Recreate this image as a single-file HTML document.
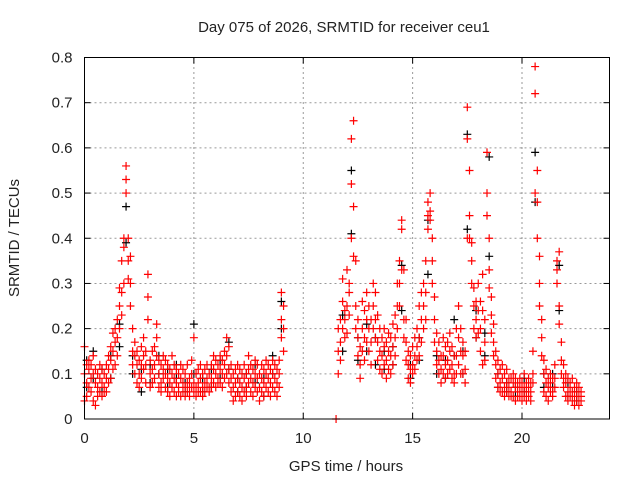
<!DOCTYPE html>
<html><head><meta charset="utf-8"><style>
html,body{margin:0;padding:0;background:#fff}
svg{display:block;font-family:"Liberation Sans",sans-serif}
</style></head><body>
<svg id="chart" width="640" height="480">
<text x="344" y="32" text-anchor="middle" font-size="15" fill="#222">Day 075 of 2026, SRMTID for receiver ceu1</text>
<text x="346" y="471" text-anchor="middle" font-size="15" fill="#222">GPS time / hours</text>
<text transform="translate(19,238) rotate(-90)" text-anchor="middle" font-size="15" fill="#222">SRMTID / TECUs</text>
<g id="grid"></g>
<g id="ticks"></g>
<g id="black"></g>
<g id="red"></g>
<rect x="84.5" y="57.5" width="525" height="361.5" fill="none" stroke="#000" stroke-width="1"/>
</svg>
<script>
const xTicks=[0,5,10,15,20];
const yTicks=[0,0.1,0.2,0.3,0.4,0.5,0.6,0.7,0.8];
const yTickLabels=["0","0.1","0.2","0.3","0.4","0.5","0.6","0.7","0.8"];
const redTimes=[0.0,0.1,0.2,0.3,0.4,0.5,0.6,0.7,0.8,0.9,1.0,1.1,1.2,1.3,1.4,1.5,1.6,1.7,1.8,1.9,2.0,2.1,2.2,2.3,2.4,2.5,2.6,2.7,2.8,2.9,3.0,3.1,3.2,3.3,3.4,3.5,3.6,3.7,3.8,3.9,4.0,4.1,4.2,4.3,4.4,4.5,4.6,4.7,4.8,4.9,5.0,5.1,5.2,5.3,5.4,5.5,5.6,5.7,5.8,5.9,6.0,6.1,6.2,6.3,6.4,6.5,6.6,6.7,6.8,6.9,7.0,7.1,7.2,7.3,7.4,7.5,7.6,7.7,7.8,7.9,8.0,8.1,8.2,8.3,8.4,8.5,8.6,8.7,8.8,8.9,9.0,9.1,
11.5,11.6,11.7,11.8,11.9,12.0,12.1,12.2,12.3,12.4,12.5,12.6,12.7,12.8,12.9,13.0,13.1,13.2,13.3,13.4,13.5,13.6,13.7,13.8,13.9,14.0,14.1,14.2,14.3,14.4,14.5,14.6,14.7,14.8,14.9,15.0,15.1,15.2,15.3,15.4,15.5,15.6,15.7,15.8,15.9,16.0,16.1,16.2,16.3,16.4,16.5,16.6,16.7,16.8,16.9,17.0,17.1,17.2,17.3,17.4,17.5,17.6,17.7,17.8,17.9,18.0,18.1,18.2,18.3,18.4,18.5,18.6,18.7,18.8,18.9,19.0,19.1,19.2,19.3,19.4,19.5,19.6,19.7,19.8,19.9,20.0,20.1,20.2,20.3,20.4,20.5,20.6,20.7,20.8,20.9,21.0,21.1,21.2,21.3,21.4,21.5,21.6,21.7,21.8,21.9,22.0,22.1,22.2,22.3,22.4,22.5,22.6,22.7];
const redValues=[[.04,.10,.16],[.12,.08,.05],[.11,.07,.13],[.09,.06,.12],[.10,.04,.14],[.08,.03,.11],[.07,.10,.05],[.09,.06,.12],[.08,.05,.11],[.10,.07,.06],[.09,.12,.06],[.11,.08,.14],[.13,.09,.16],[.15,.11,.19],[.12,.17,.20],[.18,.22,.14],[.25,.20,.29],[.23,.28,.35],[.40,.30,.38],[.56,.50,.53],[.40,.35,.31],[.30,.25,.36],[.20,.15,.12],[.14,.10,.17],[.12,.08,.15],[.10,.13,.07],[.12,.09,.16],[.14,.11,.18],[.12,.08,.15],[.32,.27,.22],[.10,.13,.07],[.11,.15,.08],[.12,.16,.09],[.21,.18,.14],[.10,.13,.07],[.08,.12,.06],[.09,.14,.11],[.07,.10,.13],[.06,.09,.12],[.08,.11,.05],[.07,.10,.14],[.09,.06,.12],[.05,.08,.11],[.07,.10,.06],[.09,.12,.05],[.06,.08,.11],[.07,.10,.05],[.08,.06,.12],[.09,.05,.07],[.10,.07,.13],[.08,.18,.06],[.07,.10,.05],[.08,.06,.11],[.06,.09,.12],[.07,.05,.10],[.08,.06,.11],[.09,.07,.12],[.07,.10,.06],[.09,.12,.07],[.08,.11,.14],[.10,.07,.13],[.09,.12,.08],[.11,.08,.14],[.10,.13,.07],[.12,.09,.15],[.14,.10,.18],[.11,.16,.08],[.09,.06,.12],[.07,.10,.04],[.08,.05,.11],[.06,.09,.12],[.05,.08,.11],[.07,.04,.10],[.09,.06,.12],[.07,.10,.05],[.11,.08,.14],[.09,.12,.06],[.08,.11,.05],[.10,.07,.13],[.09,.06,.12],[.07,.10,.04],[.06,.09,.12],[.08,.05,.11],[.07,.10,.13],[.09,.06,.12],[.08,.11,.05],[.07,.10,.13],[.09,.06,.12],[.08,.11,.05],[.10,.13,.07],[.18,.28,.22],[.15,.25,.20],
[0,0,0],[.10,.15,.20],[.17,.22,.13],[.20,.26,.31],[.18,.24,.22],[.19,.33,.25],[.23,.28,.30],[.40,.52,.62],[.47,.66,.36],[.25,.35,.20],[.18,.14,.22],[.12,.09,.16],[.15,.20,.26],[.18,.24,.13],[.22,.17,.28],[.20,.15,.25],[.17,.22,.12],[.25,.30,.20],[.22,.18,.28],[.17,.13,.23],[.15,.20,.11],[.14,.18,.10],[.16,.12,.20],[.13,.09,.17],[.15,.19,.11],[.14,.18,.10],[.16,.21,.12],[.18,.14,.23],[.30,.25,.20],[.35,.30,.25],[.44,.42,.33],[.22,.18,.33],[.17,.13,.22],[.12,.09,.15],[.11,.08,.14],[.12,.16,.10],[.14,.18,.11],[.20,.16,.13],[.25,.18,.14],[.28,.22,.17],[.30,.25,.20],[.35,.28,.22],[.45,.48,.42],[.50,.44,.46],[.40,.35,.30],[.22,.17,.27],[.15,.12,.19],[.13,.10,.17],[.11,.08,.14],[.14,.18,.10],[.12,.16,.09],[.13,.10,.17],[.15,.11,.19],[.12,.09,.16],[.10,.14,.08],[.14,.20,.10],[.18,.25,.12],[.20,.15,.10],[.14,.10,.17],[.11,.08,.15],[.40,.62,.69],[.55,.45,.40],[.39,.35,.30],[.25,.20,.29],[.22,.26,.18],[.24,.19,.30],[.20,.15,.26],[.32,.24,.12],[.17,.13,.22],[.50,.59,.45],[.40,.33,.29],[.23,.27,.19],[.17,.21,.14],[.12,.09,.15],[.10,.07,.13],[.08,.11,.06],[.09,.06,.12],[.07,.10,.05],[.08,.06,.11],[.07,.05,.09],[.06,.09,.05],[.08,.05,.10],[.07,.04,.09],[.06,.08,.05],[.07,.05,.09],[.06,.04,.08],[.05,.07,.10],[.06,.04,.08],[.07,.05,.09],[.06,.08,.04],[.10,.15,.08],[.50,.72,.78],[.48,.40,.55],[.30,.25,.36],[.18,.22,.14],[.10,.06,.13],[.08,.05,.11],[.07,.09,.04],[.08,.06,.10],[.06,.09,.05],[.09,.07,.12],[.30,.35,.33],[.37,.25,.21],[.17,.13,.10],[.09,.07,.12],[.08,.05,.10],[.06,.09,.04],[.07,.05,.08],[.06,.04,.09],[.05,.07,.03],[.06,.04,.08],[.05,.07,.03],[.04,.06,.05]];
const blackTimes=[0.1,0.4,0.8,1.2,1.6,1.9,2.2,2.6,3.0,3.4,3.8,4.2,4.6,5.0,5.4,5.8,6.2,6.6,7.0,7.4,7.8,8.2,8.6,9.0,11.8,12.2,12.5,12.9,13.3,13.7,14.1,14.5,14.9,15.3,15.7,16.1,16.5,16.9,17.3,17.5,17.9,18.3,18.5,18.9,19.3,19.7,20.1,20.6,21.0,21.4,21.7,22.1,22.5];
const blackValues=[[.13,.07],[.09,.15],[.06,.11],[.14,.09],[.21,.16],[.47,.39],[.14,.10],[.11,.06],[.12,.08],[.14,.10],[.11,.07],[.09,.12],[.08,.06],[.21,.10],[.09,.06],[.11,.07],[.13,.09],[.17,.11],[.09,.06],[.10,.07],[.12,.08],[.09,.05],[.10,.14],[.26,.20],[.23,.15],[.41,.55],[.18,.13],[.21,.15],[.18,.12],[.15,.11],[.16,.12],[.34,.24],[.12,.09],[.18,.13],[.44,.32],[.14,.10],[.13,.09],[.22,.14],[.15,.10],[.63,.42],[.24,.18],[.19,.14],[.58,.36],[.10,.07],[.08,.06],[.07,.05],[.06,.09],[.59,.48],[.10,.07],[.07,.10],[.34,.24],[.08,.05],[.06,.04]];
const X0=84.5,X1=609.5,Y0=419,Y1=57.5,XMAX=24,YMAX=0.8;
const sx=t=>X0+(X1-X0)*t/XMAX;
const sy=v=>Y0-(Y0-Y1)*v/YMAX;
const NS="http://www.w3.org/2000/svg";
const grid=document.getElementById('grid'),ticks=document.getElementById('ticks');
function mk(tag,attrs,parent){const e=document.createElementNS(NS,tag);for(const k in attrs)e.setAttribute(k,attrs[k]);parent.appendChild(e);return e;}
xTicks.forEach(t=>{const x=sx(t);
 if(t>0){const g=mk('line',{x1:x,y1:Y0,x2:x,y2:Y1,stroke:'#999','stroke-dasharray':'2,3','stroke-width':1},grid);
 
 }
 mk('line',{x1:x,y1:Y0,x2:x,y2:Y0-6,stroke:'#000'},ticks);
 mk('line',{x1:x,y1:Y1,x2:x,y2:Y1+6,stroke:'#000'},ticks);
 const l=mk('text',{x:x,y:Y0+24,'text-anchor':'middle','font-size':15,fill:'#222'},ticks);l.textContent=String(t);
 
 
});
yTicks.forEach((v,i)=>{const y=sy(v);
 if(v>0&&v<YMAX){const g=mk('line',{x1:X0,y1:y,x2:X1,y2:y,stroke:'#999','stroke-dasharray':'2,3','stroke-width':1},grid);
 
 }
 mk('line',{x1:X0,y1:y,x2:X0+6,y2:y,stroke:'#000'},ticks);
 mk('line',{x1:X1,y1:y,x2:X1-6,y2:y,stroke:'#000'},ticks);
 const l=mk('text',{x:X0-12,y:y+5,'text-anchor':'end','font-size':15,fill:'#222'},ticks);l.textContent=yTickLabels[i];
 
 
});
function plot(times,vals,gid,color,name){const g=document.getElementById(gid);let d='';
 times.forEach((t,i)=>vals[i].forEach(v=>{const x=sx(t),y=sy(v);d+=`M${x-4},${y}h8M${x},${y-4}v8`;}));
 const p=mk('path',{d:d,stroke:color,'stroke-width':1.2,fill:'none'},g);
 
 
}
plot(blackTimes,blackValues,'black','#000','black-points');
plot(redTimes,redValues,'red','#ff0000','red-points');
</script>
</body></html>
